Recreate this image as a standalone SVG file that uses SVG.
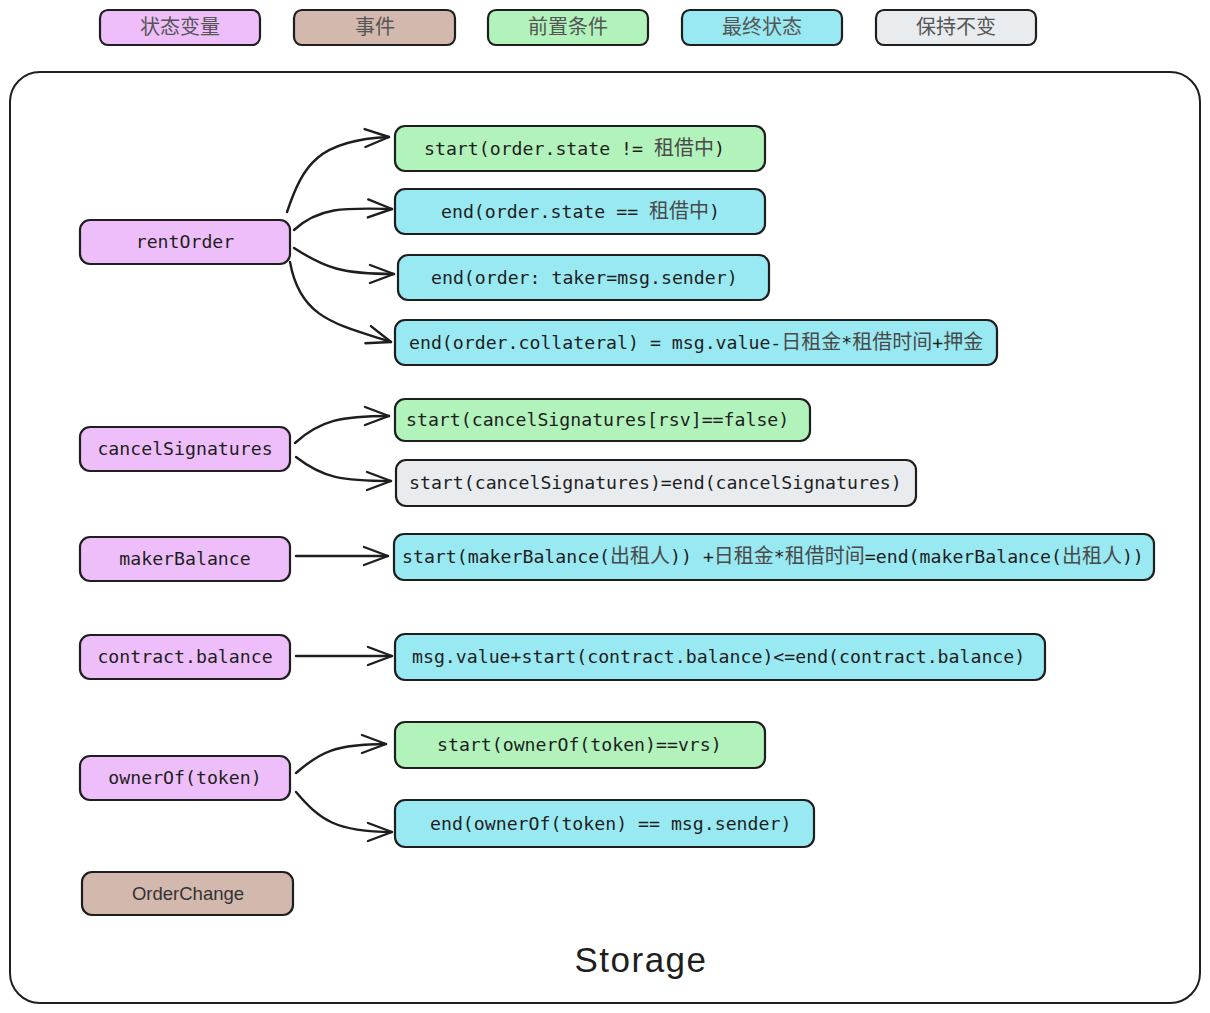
<svg xmlns="http://www.w3.org/2000/svg" width="1210" height="1013" viewBox="0 0 1210 1013">
  <defs>
    <style>
      .box { stroke: #1e1e1e; stroke-width: 2.2; }
      .var { fill: #eebefa; }
      .evt { fill: #d3b8ad; }
      .pre { fill: #b2f2bb; }
      .fin { fill: #99e9f2; }
      .keep { fill: #e9ecef; }
      .code { font-family: "DejaVu Sans Mono", "Liberation Mono", "Noto Sans CJK SC", monospace; font-size: 18.2px; fill: #1e1e1e; }
      .cjk { font-family: "Noto Sans CJK SC", sans-serif; font-size: 20px; fill: #4a4a4a; }
      .legend { font-family: "Noto Sans CJK SC", sans-serif; font-size: 20px; fill: #555555; text-anchor: middle; }
      .mid { text-anchor: middle; }
      .edge { fill: none; stroke: #1e1e1e; stroke-width: 2.4; stroke-linecap: round; marker-end: url(#head); }
    </style>
    <marker id="head" viewBox="-26 -11 28 22" markerWidth="28" markerHeight="22" refX="0" refY="0" orient="auto" markerUnits="userSpaceOnUse">
      <path d="M-24,-9 L0,0 L-24,9" fill="none" stroke="#1e1e1e" stroke-width="2.4" stroke-linecap="round" stroke-linejoin="round"/>
    </marker>
  </defs>

  <rect width="1210" height="1013" fill="#ffffff"/>

  <!-- legend -->
  <g id="legend">
    <g id="legend-var"><rect class="box var" x="100" y="10" width="160" height="35" rx="8"/><text class="legend" x="180" y="34">状态变量</text></g>
    <g id="legend-event"><rect class="box evt" x="294" y="10" width="161" height="35" rx="8"/><text class="legend" x="375" y="34">事件</text></g>
    <g id="legend-pre"><rect class="box pre" x="488" y="10" width="160" height="35" rx="8"/><text class="legend" x="568" y="34">前置条件</text></g>
    <g id="legend-final"><rect class="box fin" x="682" y="10" width="160" height="35" rx="8"/><text class="legend" x="762" y="34">最终状态</text></g>
    <g id="legend-keep"><rect class="box keep" x="876" y="10" width="160" height="35" rx="8"/><text class="legend" x="956" y="34">保持不变</text></g>
  </g>

  <!-- storage container -->
  <g id="storage">
    <rect x="10" y="72" width="1190" height="931" rx="30" fill="#ffffff" stroke="#1e1e1e" stroke-width="2"/>
    <text x="641" y="972" text-anchor="middle" font-family="Liberation Sans, Arial, sans-serif" font-size="35" letter-spacing="1.5" fill="#1e1e1e">Storage</text>
  </g>

  <!-- state variables -->
  <g id="rentOrder"><rect class="box var" x="80" y="220" width="210" height="44" rx="10"/><text class="code mid" x="185" y="248">rentOrder</text></g>
  <g id="cancelSignatures"><rect class="box var" x="80" y="427" width="210" height="44" rx="10"/><text class="code mid" x="185" y="455">cancelSignatures</text></g>
  <g id="makerBalance"><rect class="box var" x="80" y="537" width="210" height="44" rx="10"/><text class="code mid" x="185" y="565">makerBalance</text></g>
  <g id="contractBalance"><rect class="box var" x="80" y="635" width="210" height="44" rx="10"/><text class="code mid" x="185" y="663">contract.balance</text></g>
  <g id="ownerOf"><rect class="box var" x="80" y="756" width="210" height="44" rx="10"/><text class="code mid" x="185" y="784">ownerOf(token)</text></g>
  <g id="OrderChange"><rect class="box evt" x="82" y="872" width="211" height="43" rx="10"/><text x="188" y="900" text-anchor="middle" font-family="Liberation Sans, Arial, sans-serif" font-size="18.5" fill="#333333">OrderChange</text></g>

  <!-- conditions -->
  <g id="c1"><rect class="box pre" x="395" y="126" width="370" height="45" rx="10"/><text class="code" x="424" y="155">start(order.state != <tspan class="cjk">租借中</tspan>)</text></g>
  <g id="c2"><rect class="box fin" x="395" y="189" width="370" height="45" rx="10"/><text class="code" x="441" y="218">end(order.state == <tspan class="cjk">租借中</tspan>)</text></g>
  <g id="c3"><rect class="box fin" x="398" y="255" width="371" height="45" rx="10"/><text class="code" x="431" y="284">end(order: taker=msg.sender)</text></g>
  <g id="c4"><rect class="box fin" x="395" y="320" width="602" height="45" rx="10"/><text class="code" x="409" y="349">end(order.collateral) = msg.value-<tspan class="cjk">日租金</tspan>*<tspan class="cjk">租借时间</tspan>+<tspan class="cjk">押金</tspan></text></g>
  <g id="c5"><rect class="box pre" x="395" y="399" width="415" height="42" rx="10"/><text class="code" x="406" y="426">start(cancelSignatures[rsv]==false)</text></g>
  <g id="c6"><rect class="box keep" x="396" y="460" width="520" height="46" rx="10"/><text class="code" x="409" y="489">start(cancelSignatures)=end(cancelSignatures)</text></g>
  <g id="c7"><rect class="box fin" x="394" y="534" width="760" height="46" rx="10"/><text class="code" x="402" y="563">start(makerBalance(<tspan class="cjk">出租人</tspan>)) +<tspan class="cjk">日租金</tspan>*<tspan class="cjk">租借时间</tspan>=end(makerBalance(<tspan class="cjk">出租人</tspan>))</text></g>
  <g id="c8"><rect class="box fin" x="395" y="634" width="650" height="46" rx="10"/><text class="code" x="412" y="663">msg.value+start(contract.balance)&lt;=end(contract.balance)</text></g>
  <g id="c9"><rect class="box pre" x="395" y="722" width="370" height="46" rx="10"/><text class="code" x="437" y="751">start(ownerOf(token)==vrs)</text></g>
  <g id="c10"><rect class="box fin" x="395" y="800" width="419" height="47" rx="10"/><text class="code" x="430" y="830">end(ownerOf(token) == msg.sender)</text></g>

  <!-- connectors -->
  <g id="connectors">
    <path class="edge" d="M287,212 C303,165 318,140 389,137"/>
    <path class="edge" d="M294,230 C320,206 348,208 392,209"/>
    <path class="edge" d="M294,248 C325,268 342,274 394,274"/>
    <path class="edge" d="M290,262 C300,318 335,324 391,342"/>
    <path class="edge" d="M295,443 C320,420 342,416 389,416"/>
    <path class="edge" d="M296,457 C323,478 342,481 391,481"/>
    <path class="edge" d="M296,556 L388,556"/>
    <path class="edge" d="M296,656 L392,656"/>
    <path class="edge" d="M296,773 C320,752 336,744 386,744"/>
    <path class="edge" d="M296,792 C320,820 336,832 392,832"/>
  </g>
</svg>
